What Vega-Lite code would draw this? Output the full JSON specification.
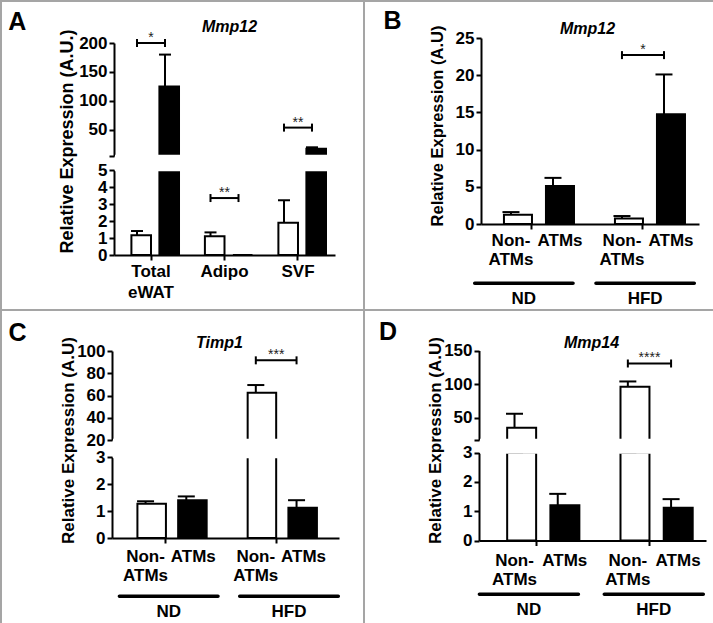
{
"$schema": "https://vega.github.io/schema/vega-lite/v6.json",
"background": "white",
"padding": 0,
"columns": 2,
"spacing": 0,
"bounds": "flush",
"align": "each",
"config": {
  "view": {"stroke": null},
  "font": "Liberation Sans",
  "axis": {"domainColor": "black", "domainWidth": 2, "tickColor": "black", "tickWidth": 2, "tickSize": 5, "labelFont": "Liberation Sans", "labelFontSize": 17, "labelFontWeight": "bold", "labelColor": "black", "titleFont": "Liberation Sans", "titleFontWeight": "bold", "titleColor": "black", "titleFontSize": 17, "grid": false, "labelPadding": 2, "labelFlush": false, "labelOverlap": false, "zindex": 1}
},
"datasets": {
  "A": [
    {"group": "Total eWAT", "type": "open", "mean": 1.16, "upper": 1.41},
    {"group": "Total eWAT", "type": "filled", "mean": 125, "upper": 180},
    {"group": "Adipo", "type": "open", "mean": 1.1, "upper": 1.33},
    {"group": "Adipo", "type": "filled", "mean": 0, "upper": null},
    {"group": "SVF", "type": "open", "mean": 1.9, "upper": 3.22},
    {"group": "SVF", "type": "filled", "mean": 17.6, "upper": 20}
  ],
  "A_br": [
    {"group": "Total eWAT", "type": "open", "y": 200, "seg": "top"},
    {"group": "Total eWAT", "type": "filled", "y": 200, "seg": "top"},
    {"group": "Adipo", "type": "open", "y": 3.35, "seg": "bottom"},
    {"group": "Adipo", "type": "filled", "y": 3.35, "seg": "bottom"},
    {"group": "SVF", "type": "open", "y": 54, "seg": "top"},
    {"group": "SVF", "type": "filled", "y": 54, "seg": "top"}
  ],
  "A_star": [
    {"group": "Total eWAT", "y": 200, "label": "*", "seg": "top"},
    {"group": "Adipo", "y": 3.35, "label": "**", "seg": "bottom"},
    {"group": "SVF", "y": 54, "label": "**", "seg": "top"}
  ],
  "B": [
    {"group": "ND", "type": "Non-ATMs", "label": "Non-\nATMs", "mean": 1.26, "upper": 1.6},
    {"group": "ND", "type": "ATMs", "label": "ATMs", "mean": 5.1, "upper": 6.2},
    {"group": "HFD", "type": "Non-ATMs", "label": "Non-\nATMs", "mean": 0.73, "upper": 1.07},
    {"group": "HFD", "type": "ATMs", "label": "ATMs", "mean": 14.75, "upper": 20.1}
  ],
  "B_br": [{"group": "HFD", "type": "Non-ATMs", "y": 22.7}, {"group": "HFD", "type": "ATMs", "y": 22.7}],
  "B_star": [{"group": "HFD", "y": 22.7, "label": "*"}],
  "C": [
    {"group": "ND", "type": "Non-ATMs", "label": "Non-\nATMs", "mean": 1.27, "upper": 1.36},
    {"group": "ND", "type": "ATMs", "label": "ATMs", "mean": 1.4, "upper": 1.54},
    {"group": "HFD", "type": "Non-ATMs", "label": "Non-\nATMs", "mean": 62.5, "upper": 69.4},
    {"group": "HFD", "type": "ATMs", "label": "ATMs", "mean": 1.12, "upper": 1.4}
  ],
  "C_br": [{"group": "HFD", "type": "Non-ATMs", "y": 91.6}, {"group": "HFD", "type": "ATMs", "y": 91.6}],
  "C_star": [{"group": "HFD", "y": 91.6, "label": "***"}],
  "D": [
    {"group": "ND", "type": "Non-ATMs", "label": "Non-\nATMs", "mean": 35.2, "upper": 56},
    {"group": "ND", "type": "ATMs", "label": "ATMs", "mean": 1.2, "upper": 1.59},
    {"group": "HFD", "type": "Non-ATMs", "label": "Non-\nATMs", "mean": 96, "upper": 104},
    {"group": "HFD", "type": "ATMs", "label": "ATMs", "mean": 1.12, "upper": 1.41}
  ],
  "D_br": [{"group": "HFD", "type": "Non-ATMs", "y": 130.7}, {"group": "HFD", "type": "ATMs", "y": 130.7}],
  "D_star": [{"group": "HFD", "y": 130.7, "label": "****"}],
  "groups": [{"group": "ND"}, {"group": "HFD"}],
  "one": [{"part": "break"}]
},
"concat": [
  {
    "width": 363, "height": 309,
    "view": {"stroke": "#a5a5a5", "strokeWidth": 2},
    "resolve": {"scale": {"x": "independent", "y": "independent", "xOffset": "independent"}, "axis": {"x": "independent", "y": "independent"}},
    "layer": [
      {"data": {"name": "A"}, "layer": [
        {"mark": {"type": "bar", "stroke": "black", "strokeWidth": 2, "width": {"band": 0.7}},
         "encoding": {
           "x": {"field": "group", "type": "nominal", "scale": {"domain": ["Total eWAT", "Adipo", "SVF"], "range": [113, 334], "paddingInner": 0.238, "paddingOuter": 0.1225, "align": 0.5}, "axis": {"orient": "top", "offset": 0, "domain": false, "ticks": false, "labels": false, "title": "Mmp12", "titleFontSize": 16, "titleFontStyle": "italic", "titleX": 228, "titleY": 17.1, "titleAlign": "center", "titleBaseline": "top", "titleAngle": 0}},
           "xOffset": {"field": "type", "type": "nominal", "scale": {"domain": ["open", "filled"]}},
           "y": {"field": "mean", "type": "quantitative", "scale": {"domain": [5, 200], "range": [155, 42], "clamp": true, "nice": false, "zero": false}, "axis": {"orient": "left", "offset": -113, "values": [5, 50, 100, 150, 200], "format": "d", "labelExpr": "datum.value < 10 ? '' : datum.label", "title": "A", "titleFontSize": 25, "titleAngle": 0, "titleX": -106.3, "titleY": 8.2, "titleAlign": "left", "titleBaseline": "top"}},
           "y2": {"datum": 0},
           "fill": {"field": "type", "type": "nominal", "scale": {"domain": ["open", "filled", "Non-ATMs", "ATMs"], "range": ["white", "black", "white", "black"]}, "legend": null}}},
        {"transform": [{"filter": "isValid(datum.upper)"}], "mark": {"type": "rule", "strokeWidth": 2, "color": "black"},
         "encoding": {"x": {"field": "group", "type": "nominal"}, "xOffset": {"field": "type", "type": "nominal"}, "y": {"field": "mean", "type": "quantitative"}, "y2": {"field": "upper"}}},
        {"transform": [{"filter": "isValid(datum.upper)"}], "mark": {"type": "point", "shape": "M-1,0L1,0", "size": 144, "stroke": "black", "strokeWidth": 2, "filled": false, "opacity": 1},
         "encoding": {"x": {"field": "group", "type": "nominal"}, "xOffset": {"field": "type", "type": "nominal"}, "y": {"field": "upper", "type": "quantitative"}}},
        {"data": {"name": "A_br"}, "transform": [{"filter": "datum.seg == 'top'"}], "mark": {"type": "line", "color": "black", "strokeWidth": 2},
         "encoding": {"x": {"field": "group", "type": "nominal"}, "xOffset": {"field": "type", "type": "nominal"}, "y": {"field": "y", "type": "quantitative"}, "detail": {"field": "group"}}},
        {"data": {"name": "A_br"}, "transform": [{"filter": "datum.seg == 'top'"}], "mark": {"type": "point", "shape": "M0,-1L0,1", "size": 64, "stroke": "black", "strokeWidth": 2, "filled": false, "opacity": 1},
         "encoding": {"x": {"field": "group", "type": "nominal"}, "xOffset": {"field": "type", "type": "nominal"}, "y": {"field": "y", "type": "quantitative"}}},
        {"data": {"name": "A_star"}, "transform": [{"filter": "datum.seg == 'top'"}], "mark": {"type": "text", "fontSize": 14, "dy": -1, "baseline": "alphabetic", "color": "#222"},
         "encoding": {"x": {"field": "group", "type": "nominal"}, "y": {"field": "y", "type": "quantitative"}, "text": {"field": "label"}}}
      ]},
      {"data": {"name": "A"}, "layer": [
        {"mark": {"type": "bar", "stroke": "black", "strokeWidth": 2, "width": {"band": 0.7}},
         "encoding": {
           "x": {"field": "group", "type": "nominal", "scale": {"domain": ["Total eWAT", "Adipo", "SVF"], "range": [113, 334], "paddingInner": 0.238, "paddingOuter": 0.1225, "align": 0.5}, "axis": {"orient": "bottom", "offset": -55, "title": null, "labelExpr": "split(datum.label, ' ')", "labelAngle": 0, "labelPadding": 3, "labelLineHeight": 21, "labelBaseline": "top"}},
           "xOffset": {"field": "type", "type": "nominal", "scale": {"domain": ["open", "filled"]}},
           "y": {"field": "mean", "type": "quantitative", "scale": {"domain": [0, 5], "range": [254, 169], "clamp": true, "nice": false}, "axis": {"orient": "left", "offset": -113, "values": [0, 1, 2, 3, 4, 5], "format": "d", "title": "Relative Expression (A.U.)", "titleFontSize": 18, "titleX": -47, "titleY": 140, "titleAngle": -90, "titleAlign": "center", "titleBaseline": "middle"}},
           "y2": {"datum": 0},
           "fill": {"field": "type", "type": "nominal", "scale": {"domain": ["open", "filled", "Non-ATMs", "ATMs"], "range": ["white", "black", "white", "black"]}, "legend": null}}},
        {"transform": [{"filter": "isValid(datum.upper)"}], "mark": {"type": "rule", "strokeWidth": 2, "color": "black"},
         "encoding": {"x": {"field": "group", "type": "nominal"}, "xOffset": {"field": "type", "type": "nominal"}, "y": {"field": "mean", "type": "quantitative"}, "y2": {"field": "upper"}}},
        {"transform": [{"filter": "isValid(datum.upper)"}], "mark": {"type": "point", "shape": "M-1,0L1,0", "size": 144, "stroke": "black", "strokeWidth": 2, "filled": false, "opacity": 1},
         "encoding": {"x": {"field": "group", "type": "nominal"}, "xOffset": {"field": "type", "type": "nominal"}, "y": {"field": "upper", "type": "quantitative"}}},
        {"data": {"name": "A_br"}, "transform": [{"filter": "datum.seg == 'bottom'"}], "mark": {"type": "line", "color": "black", "strokeWidth": 2},
         "encoding": {"x": {"field": "group", "type": "nominal"}, "xOffset": {"field": "type", "type": "nominal"}, "y": {"field": "y", "type": "quantitative"}, "detail": {"field": "group"}}},
        {"data": {"name": "A_br"}, "transform": [{"filter": "datum.seg == 'bottom'"}], "mark": {"type": "point", "shape": "M0,-1L0,1", "size": 64, "stroke": "black", "strokeWidth": 2, "filled": false, "opacity": 1},
         "encoding": {"x": {"field": "group", "type": "nominal"}, "xOffset": {"field": "type", "type": "nominal"}, "y": {"field": "y", "type": "quantitative"}}},
        {"data": {"name": "A_star"}, "transform": [{"filter": "datum.seg == 'bottom'"}], "mark": {"type": "text", "fontSize": 14, "dy": -1, "baseline": "alphabetic", "color": "#222"},
         "encoding": {"x": {"field": "group", "type": "nominal"}, "y": {"field": "y", "type": "quantitative"}, "text": {"field": "label"}}}
      ]},
      {"data": {"name": "one"}, "mark": {"type": "rect", "fill": "white"},
       "encoding": {"x": {"datum": 0, "type": "quantitative", "scale": {"domain": [0, 1], "range": [114, 334]}, "axis": null}, "x2": {"datum": 1}, "y": {"datum": 0, "type": "quantitative", "scale": {"domain": [0, 1], "range": [170.2, 153.8]}, "axis": null}, "y2": {"datum": 1}}}
    ]
  },
  {
    "width": 350, "height": 309,
    "view": {"stroke": "#a5a5a5", "strokeWidth": 2},
    "resolve": {"scale": {"x": "independent", "y": "independent", "xOffset": "independent"}, "axis": {"x": "independent", "y": "independent"}},
    "layer": [
      {"data": {"name": "B"}, "layer": [
        {"mark": {"type": "bar", "stroke": "black", "strokeWidth": 2, "width": {"band": 0.667}},
         "encoding": {
           "x": {"field": "group", "type": "nominal", "scale": {"domain": ["ND", "HFD"], "range": [117, 335], "paddingInner": 0.243, "paddingOuter": 0.1035, "align": 0.39}, "axis": {"orient": "bottom", "offset": -86, "labels": false, "title": null}},
           "xOffset": {"field": "type", "type": "nominal", "scale": {"domain": ["Non-ATMs", "ATMs"]}},
           "y": {"field": "mean", "type": "quantitative", "scale": {"domain": [0, 25], "range": [223, 37], "nice": false}, "axis": {"orient": "left", "offset": -117, "values": [0, 5, 10, 15, 20, 25], "format": "d", "title": "Relative Expression (A.U)", "titleFontSize": 16.5, "titleX": -44, "titleY": 124.5, "titleAngle": -90, "titleAlign": "center", "titleBaseline": "middle"}},
           "y2": {"datum": 0},
           "fill": {"field": "type", "type": "nominal", "scale": {"domain": ["open", "filled", "Non-ATMs", "ATMs"], "range": ["white", "black", "white", "black"]}, "legend": null}}},
        {"mark": {"type": "rule", "strokeWidth": 2, "color": "black"},
         "encoding": {"x": {"field": "group", "type": "nominal"}, "xOffset": {"field": "type", "type": "nominal"}, "y": {"field": "mean", "type": "quantitative"}, "y2": {"field": "upper"}}},
        {"mark": {"type": "point", "shape": "M-1,0L1,0", "size": 289, "stroke": "black", "strokeWidth": 2, "filled": false, "opacity": 1},
         "encoding": {"x": {"field": "group", "type": "nominal"}, "xOffset": {"field": "type", "type": "nominal"}, "y": {"field": "upper", "type": "quantitative"}}},
        {"transform": [{"filter": "datum.type == 'Non-ATMs'"}], "mark": {"type": "text", "lineBreak": "\n", "lineHeight": 18.5, "baseline": "top", "align": "center", "dy": 9.3, "fontSize": 17, "fontWeight": "bold", "color": "black"},
         "encoding": {"x": {"field": "group", "type": "nominal"}, "xOffset": {"field": "type", "type": "nominal"}, "y": {"datum": 0}, "text": {"field": "label"}}},
        {"transform": [{"filter": "datum.type == 'ATMs'"}], "mark": {"type": "text", "baseline": "top", "align": "center", "dy": 9.3, "dx": 7, "fontSize": 17, "fontWeight": "bold", "color": "black"},
         "encoding": {"x": {"field": "group", "type": "nominal"}, "xOffset": {"field": "type", "type": "nominal"}, "y": {"datum": 0}, "text": {"field": "label"}}}
      ]},
      {"data": {"name": "B_br"}, "layer": [
        {"mark": {"type": "line", "color": "black", "strokeWidth": 2},
         "encoding": {
           "x": {"field": "group", "type": "nominal", "scale": {"domain": ["ND", "HFD"], "range": [117, 335], "paddingInner": 0.243, "paddingOuter": 0.1035, "align": 0.39}, "axis": {"orient": "top", "offset": 0, "domain": false, "ticks": false, "labels": false, "title": "Mmp12", "titleFontSize": 16, "titleFontStyle": "italic", "titleX": 223, "titleY": 19.5, "titleAlign": "center", "titleBaseline": "top", "titleAngle": 0}},
           "xOffset": {"field": "type", "type": "nominal", "scale": {"domain": ["Non-ATMs", "ATMs"]}},
           "y": {"field": "y", "type": "quantitative", "scale": {"domain": [0, 25], "range": [223, 37], "nice": false}, "axis": {"orient": "left", "offset": -117, "domain": false, "ticks": false, "labels": false, "title": "B", "titleFontSize": 25, "titleAngle": 0, "titleX": -98, "titleY": 7.45, "titleAlign": "left", "titleBaseline": "top"}},
           "detail": {"field": "group"}}},
        {"mark": {"type": "point", "shape": "M0,-1L0,1", "size": 64, "stroke": "black", "strokeWidth": 2, "filled": false, "opacity": 1},
         "encoding": {"x": {"field": "group", "type": "nominal"}, "xOffset": {"field": "type", "type": "nominal"}, "y": {"field": "y", "type": "quantitative"}}},
        {"data": {"name": "B_star"}, "mark": {"type": "text", "fontSize": 14, "dy": -1, "baseline": "alphabetic", "color": "#222"},
         "encoding": {"x": {"field": "group", "type": "nominal"}, "y": {"field": "y", "type": "quantitative"}, "text": {"field": "label"}}}
      ]},
      {"data": {"name": "groups"}, "mark": {"type": "bar", "color": "black", "cornerRadius": 1.7},
       "encoding": {
         "x": {"field": "group", "type": "nominal", "scale": {"domain": ["ND", "HFD"], "range": [109, 332], "paddingInner": 0.161, "paddingOuter": 0}, "axis": {"orient": "bottom", "offset": -25, "title": null, "domain": false, "ticks": false, "tickSize": 0, "labelPadding": 5, "labelAngle": 0}},
         "y": {"datum": 0, "type": "quantitative", "scale": {"domain": [0, 1], "range": [284, 280.5]}, "axis": null},
         "y2": {"datum": 1}}}
    ]
  },
  {
    "width": 363, "height": 314,
    "view": {"stroke": "#a5a5a5", "strokeWidth": 2},
    "resolve": {"scale": {"x": "independent", "y": "independent", "xOffset": "independent"}, "axis": {"x": "independent", "y": "independent"}},
    "layer": [
      {"data": {"name": "C"}, "layer": [
        {"mark": {"type": "bar", "stroke": "black", "strokeWidth": 2, "width": {"band": 0.7}},
         "encoding": {
           "x": {"field": "group", "type": "nominal", "scale": {"domain": ["ND", "HFD"], "range": [111, 338], "paddingInner": 0.261, "paddingOuter": 0.16, "align": 0.374}, "axis": {"orient": "top", "offset": 0, "domain": false, "ticks": false, "labels": false, "title": "Timp1", "titleFontSize": 16, "titleFontStyle": "italic", "titleX": 218, "titleY": 24.8, "titleAlign": "center", "titleBaseline": "top", "titleAngle": 0}},
           "xOffset": {"field": "type", "type": "nominal", "scale": {"domain": ["Non-ATMs", "ATMs"]}},
           "y": {"field": "mean", "type": "quantitative", "scale": {"domain": [20, 100], "range": [130, 41], "clamp": true, "nice": false, "zero": false}, "axis": {"orient": "left", "offset": -111, "values": [20, 40, 60, 80, 100], "format": "d", "title": "C", "titleFontSize": 25, "titleAngle": 0, "titleX": -103.9, "titleY": 10.85, "titleAlign": "left", "titleBaseline": "top"}},
           "y2": {"datum": 0},
           "fill": {"field": "type", "type": "nominal", "scale": {"domain": ["open", "filled", "Non-ATMs", "ATMs"], "range": ["white", "black", "white", "black"]}, "legend": null}}},
        {"mark": {"type": "rule", "strokeWidth": 2, "color": "black"},
         "encoding": {"x": {"field": "group", "type": "nominal"}, "xOffset": {"field": "type", "type": "nominal"}, "y": {"field": "mean", "type": "quantitative"}, "y2": {"field": "upper"}}},
        {"mark": {"type": "point", "shape": "M-1,0L1,0", "size": 289, "stroke": "black", "strokeWidth": 2, "filled": false, "opacity": 1},
         "encoding": {"x": {"field": "group", "type": "nominal"}, "xOffset": {"field": "type", "type": "nominal"}, "y": {"field": "upper", "type": "quantitative"}}},
        {"data": {"name": "C_br"}, "mark": {"type": "line", "color": "black", "strokeWidth": 2},
         "encoding": {"x": {"field": "group", "type": "nominal"}, "xOffset": {"field": "type", "type": "nominal"}, "y": {"field": "y", "type": "quantitative"}, "detail": {"field": "group"}}},
        {"data": {"name": "C_br"}, "mark": {"type": "point", "shape": "M0,-1L0,1", "size": 64, "stroke": "black", "strokeWidth": 2, "filled": false, "opacity": 1},
         "encoding": {"x": {"field": "group", "type": "nominal"}, "xOffset": {"field": "type", "type": "nominal"}, "y": {"field": "y", "type": "quantitative"}}},
        {"data": {"name": "C_star"}, "mark": {"type": "text", "fontSize": 14, "dy": -1, "baseline": "alphabetic", "color": "#222"},
         "encoding": {"x": {"field": "group", "type": "nominal"}, "y": {"field": "y", "type": "quantitative"}, "text": {"field": "label"}}}
      ]},
      {"data": {"name": "C"}, "layer": [
        {"mark": {"type": "bar", "stroke": "black", "strokeWidth": 2, "width": {"band": 0.7}},
         "encoding": {
           "x": {"field": "group", "type": "nominal", "scale": {"domain": ["ND", "HFD"], "range": [111, 338], "paddingInner": 0.261, "paddingOuter": 0.16, "align": 0.374}, "axis": {"orient": "bottom", "offset": -86, "labels": false, "title": null}},
           "xOffset": {"field": "type", "type": "nominal", "scale": {"domain": ["Non-ATMs", "ATMs"]}},
           "y": {"field": "mean", "type": "quantitative", "scale": {"domain": [0, 3], "range": [228, 147], "clamp": true, "nice": false}, "axis": {"orient": "left", "offset": -111, "values": [0, 1, 2, 3], "format": "d", "title": "Relative Expression (A.U)", "titleFontSize": 17, "titleX": -44, "titleY": 130, "titleAngle": -90, "titleAlign": "center", "titleBaseline": "middle"}},
           "y2": {"datum": 0},
           "fill": {"field": "type", "type": "nominal", "scale": {"domain": ["open", "filled", "Non-ATMs", "ATMs"], "range": ["white", "black", "white", "black"]}, "legend": null}}},
        {"mark": {"type": "rule", "strokeWidth": 2, "color": "black"},
         "encoding": {"x": {"field": "group", "type": "nominal"}, "xOffset": {"field": "type", "type": "nominal"}, "y": {"field": "mean", "type": "quantitative"}, "y2": {"field": "upper"}}},
        {"mark": {"type": "point", "shape": "M-1,0L1,0", "size": 289, "stroke": "black", "strokeWidth": 2, "filled": false, "opacity": 1},
         "encoding": {"x": {"field": "group", "type": "nominal"}, "xOffset": {"field": "type", "type": "nominal"}, "y": {"field": "upper", "type": "quantitative"}}},
        {"transform": [{"filter": "datum.type == 'Non-ATMs'"}], "mark": {"type": "text", "lineBreak": "\n", "lineHeight": 19, "baseline": "top", "align": "center", "dy": 11.1, "fontSize": 17, "fontWeight": "bold", "color": "black"},
         "encoding": {"x": {"field": "group", "type": "nominal"}, "xOffset": {"field": "type", "type": "nominal"}, "y": {"datum": 0}, "text": {"field": "label"}}},
        {"transform": [{"filter": "datum.type == 'ATMs'"}], "mark": {"type": "text", "baseline": "top", "align": "center", "dy": 11.1, "dx": 7, "fontSize": 17, "fontWeight": "bold", "color": "black"},
         "encoding": {"x": {"field": "group", "type": "nominal"}, "xOffset": {"field": "type", "type": "nominal"}, "y": {"datum": 0}, "text": {"field": "label"}}}
      ]},
      {"data": {"name": "groups"}, "mark": {"type": "bar", "color": "black", "cornerRadius": 1.7},
       "encoding": {
         "x": {"field": "group", "type": "nominal", "scale": {"domain": ["ND", "HFD"], "range": [116.7, 339], "paddingInner": 0.152, "paddingOuter": 0}, "axis": {"orient": "bottom", "offset": -26, "title": null, "domain": false, "ticks": false, "tickSize": 0, "labelPadding": 5, "labelAngle": 0}},
         "y": {"datum": 0, "type": "quantitative", "scale": {"domain": [0, 1], "range": [288, 284.5]}, "axis": null},
         "y2": {"datum": 1}}},
      {"data": {"name": "one"}, "mark": {"type": "rect", "fill": "white"},
       "encoding": {"x": {"datum": 0, "type": "quantitative", "scale": {"domain": [0, 1], "range": [112, 338]}, "axis": null}, "x2": {"datum": 1}, "y": {"datum": 0, "type": "quantitative", "scale": {"domain": [0, 1], "range": [148.2, 128.8]}, "axis": null}, "y2": {"datum": 1}}}
    ]
  },
  {
    "width": 350, "height": 314,
    "view": {"stroke": "#a5a5a5", "strokeWidth": 2},
    "resolve": {"scale": {"x": "independent", "y": "independent", "xOffset": "independent"}, "axis": {"x": "independent", "y": "independent"}},
    "layer": [
      {"data": {"name": "D"}, "layer": [
        {"mark": {"type": "bar", "stroke": "black", "strokeWidth": 2, "width": {"band": 0.67}},
         "encoding": {
           "x": {"field": "group", "type": "nominal", "scale": {"domain": ["ND", "HFD"], "range": [115, 342], "paddingInner": 0.237, "paddingOuter": 0.12, "align": 0.511}, "axis": {"orient": "top", "offset": 0, "domain": false, "ticks": false, "labels": false, "title": "Mmp14", "titleFontSize": 16, "titleFontStyle": "italic", "titleX": 227, "titleY": 24.8, "titleAlign": "center", "titleBaseline": "top", "titleAngle": 0}},
           "xOffset": {"field": "type", "type": "nominal", "scale": {"domain": ["Non-ATMs", "ATMs"]}},
           "y": {"field": "mean", "type": "quantitative", "scale": {"domain": [17, 150], "range": [130, 40.5], "clamp": true, "nice": false, "zero": false}, "axis": {"orient": "left", "offset": -115, "values": [17, 50, 100, 150], "format": "d", "labelExpr": "datum.value < 20 ? '' : datum.label", "title": "D", "titleFontSize": 25, "titleAngle": 0, "titleX": -100.5, "titleY": 9.15, "titleAlign": "left", "titleBaseline": "top"}},
           "y2": {"datum": 0},
           "fill": {"field": "type", "type": "nominal", "scale": {"domain": ["open", "filled", "Non-ATMs", "ATMs"], "range": ["white", "black", "white", "black"]}, "legend": null}}},
        {"mark": {"type": "rule", "strokeWidth": 2, "color": "black"},
         "encoding": {"x": {"field": "group", "type": "nominal"}, "xOffset": {"field": "type", "type": "nominal"}, "y": {"field": "mean", "type": "quantitative"}, "y2": {"field": "upper"}}},
        {"mark": {"type": "point", "shape": "M-1,0L1,0", "size": 289, "stroke": "black", "strokeWidth": 2, "filled": false, "opacity": 1},
         "encoding": {"x": {"field": "group", "type": "nominal"}, "xOffset": {"field": "type", "type": "nominal"}, "y": {"field": "upper", "type": "quantitative"}}},
        {"data": {"name": "D_br"}, "mark": {"type": "line", "color": "black", "strokeWidth": 2},
         "encoding": {"x": {"field": "group", "type": "nominal"}, "xOffset": {"field": "type", "type": "nominal"}, "y": {"field": "y", "type": "quantitative"}, "detail": {"field": "group"}}},
        {"data": {"name": "D_br"}, "mark": {"type": "point", "shape": "M0,-1L0,1", "size": 64, "stroke": "black", "strokeWidth": 2, "filled": false, "opacity": 1},
         "encoding": {"x": {"field": "group", "type": "nominal"}, "xOffset": {"field": "type", "type": "nominal"}, "y": {"field": "y", "type": "quantitative"}}},
        {"data": {"name": "D_star"}, "mark": {"type": "text", "fontSize": 14, "dy": -1, "baseline": "alphabetic", "color": "#222"},
         "encoding": {"x": {"field": "group", "type": "nominal"}, "y": {"field": "y", "type": "quantitative"}, "text": {"field": "label"}}}
      ]},
      {"data": {"name": "D"}, "layer": [
        {"mark": {"type": "bar", "stroke": "black", "strokeWidth": 2, "width": {"band": 0.67}},
         "encoding": {
           "x": {"field": "group", "type": "nominal", "scale": {"domain": ["ND", "HFD"], "range": [115, 342], "paddingInner": 0.237, "paddingOuter": 0.12, "align": 0.511}, "axis": {"orient": "bottom", "offset": -83.5, "labels": false, "title": null}},
           "xOffset": {"field": "type", "type": "nominal", "scale": {"domain": ["Non-ATMs", "ATMs"]}},
           "y": {"field": "mean", "type": "quantitative", "scale": {"domain": [0, 3], "range": [230.5, 142.5], "clamp": true, "nice": false}, "axis": {"orient": "left", "offset": -115, "values": [0, 1, 2, 3], "format": "d", "title": "Relative Expression (A.U)", "titleFontSize": 17, "titleX": -43.5, "titleY": 130, "titleAngle": -90, "titleAlign": "center", "titleBaseline": "middle"}},
           "y2": {"datum": 0},
           "fill": {"field": "type", "type": "nominal", "scale": {"domain": ["open", "filled", "Non-ATMs", "ATMs"], "range": ["white", "black", "white", "black"]}, "legend": null}}},
        {"mark": {"type": "rule", "strokeWidth": 2, "color": "black"},
         "encoding": {"x": {"field": "group", "type": "nominal"}, "xOffset": {"field": "type", "type": "nominal"}, "y": {"field": "mean", "type": "quantitative"}, "y2": {"field": "upper"}}},
        {"mark": {"type": "point", "shape": "M-1,0L1,0", "size": 289, "stroke": "black", "strokeWidth": 2, "filled": false, "opacity": 1},
         "encoding": {"x": {"field": "group", "type": "nominal"}, "xOffset": {"field": "type", "type": "nominal"}, "y": {"field": "upper", "type": "quantitative"}}},
        {"transform": [{"filter": "datum.type == 'Non-ATMs'"}], "mark": {"type": "text", "lineBreak": "\n", "lineHeight": 19, "baseline": "top", "align": "center", "dy": 12, "fontSize": 17, "fontWeight": "bold", "color": "black"},
         "encoding": {"x": {"field": "group", "type": "nominal"}, "xOffset": {"field": "type", "type": "nominal"}, "y": {"datum": 0}, "text": {"field": "label"}}},
        {"transform": [{"filter": "datum.type == 'ATMs'"}], "mark": {"type": "text", "baseline": "top", "align": "center", "dy": 12, "dx": 7, "fontSize": 17, "fontWeight": "bold", "color": "black"},
         "encoding": {"x": {"field": "group", "type": "nominal"}, "xOffset": {"field": "type", "type": "nominal"}, "y": {"datum": 0}, "text": {"field": "label"}}}
      ]},
      {"data": {"name": "groups"}, "mark": {"type": "bar", "color": "black", "cornerRadius": 1.7},
       "encoding": {
         "x": {"field": "group", "type": "nominal", "scale": {"domain": ["ND", "HFD"], "range": [113.7, 341], "paddingInner": 0.18, "paddingOuter": 0}, "axis": {"orient": "bottom", "offset": -28, "title": null, "domain": false, "ticks": false, "tickSize": 0, "labelPadding": 5, "labelAngle": 0}},
         "y": {"datum": 0, "type": "quantitative", "scale": {"domain": [0, 1], "range": [286, 282.5]}, "axis": null},
         "y2": {"datum": 1}}},
      {"data": {"name": "one"}, "mark": {"type": "rect", "fill": "white"},
       "encoding": {"x": {"datum": 0, "type": "quantitative", "scale": {"domain": [0, 1], "range": [116, 342]}, "axis": null}, "x2": {"datum": 1}, "y": {"datum": 0, "type": "quantitative", "scale": {"domain": [0, 1], "range": [143.7, 128.8]}, "axis": null}, "y2": {"datum": 1}}}
    ]
  }
]
}
